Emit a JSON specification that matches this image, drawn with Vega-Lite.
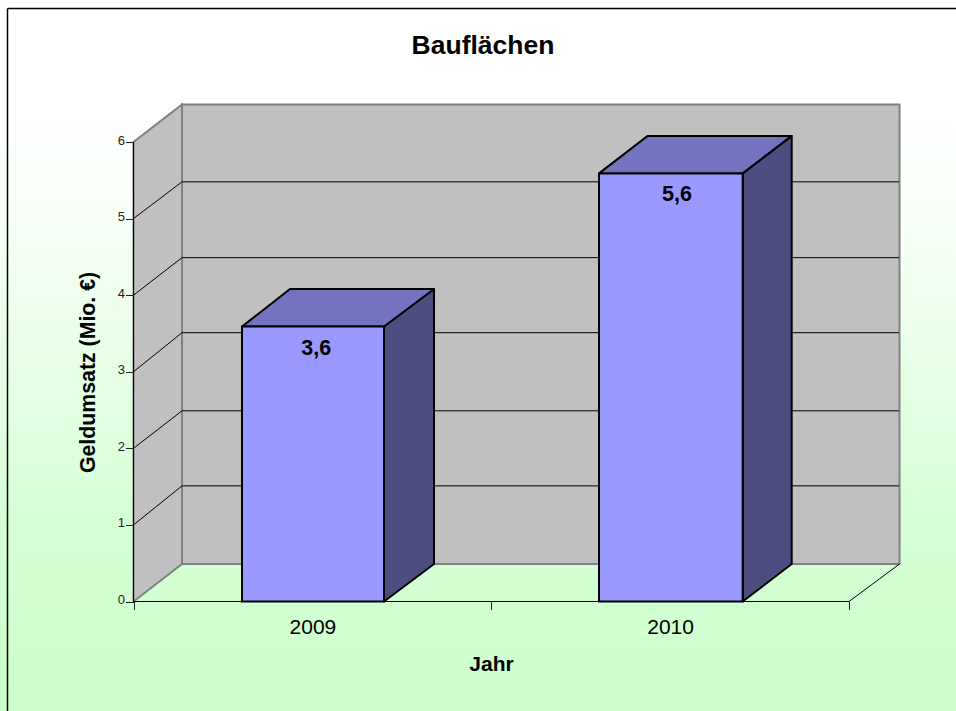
{"$schema":"https://vega.github.io/schema/vega-lite/v6.json","width":956,"height":711,"padding":0,"autosize":{"type":"none"},"background":"white","config":{"view":{"stroke":null},"font":"Liberation Sans"},
"title":{"text":"Bauflächen","font":"Liberation Sans","fontSize":26.5,"fontWeight":"bold","color":"#000000","anchor":"middle","dx":5,"dy":59,"offset":0},
"datasets":{
"bg":[{"x":-0.37317,"x2":2.29909,"y":-1.4298,"y2":7.8543}],
"walls":[{"id":"links","x":0,"y":0,"y2":6},{"id":"links","x":0.1356,"y":0.4897,"y2":6.4897},{"id":"hinten","x":0.1356,"y":0.4897,"y2":6.4897},{"id":"hinten","x":2.1412,"y":0.4897,"y2":6.4897}],
"grid":[
{"id":"d1","x":0,"y":1},{"id":"d1","x":0.1356,"y":1.51},{"id":"d2","x":0,"y":2},{"id":"d2","x":0.1356,"y":2.49},{"id":"d3","x":0,"y":3},{"id":"d3","x":0.1356,"y":3.51},{"id":"d4","x":0,"y":4},{"id":"d4","x":0.1356,"y":4.49},{"id":"d5","x":0,"y":5},{"id":"d5","x":0.1356,"y":5.48},
{"id":"h1","x":0.1356,"y":1.51},{"id":"h1","x":2.14,"y":1.51},{"id":"h2","x":0.1356,"y":2.49},{"id":"h2","x":2.14,"y":2.49},{"id":"h3","x":0.1356,"y":3.51},{"id":"h3","x":2.14,"y":3.51},{"id":"h4","x":0.1356,"y":4.49},{"id":"h4","x":2.14,"y":4.49},{"id":"h5","x":0.1356,"y":5.48},{"id":"h5","x":2.14,"y":5.48},
{"id":"yachse","x":0,"y":0},{"id":"yachse","x":0,"y":6},{"id":"xachse","x":0,"y":0},{"id":"xachse","x":2,"y":0},{"id":"boden","x":2,"y":0},{"id":"boden","x":2.1412,"y":0.4897}],
"frame":[{"id":"l","x":-0.3522,"y":-1.4298},{"id":"l","x":-0.3522,"y":7.7432},{"id":"o","x":-0.3522,"y":7.7432},{"id":"o","x":2.29909,"y":7.7432}],
"bars":[{"jahr":"2009","x":0.3033,"x2":0.7002,"y":3.59,"y2":0},{"jahr":"2010","x":1.3012,"x2":1.7028,"y":5.59,"y2":0}],
"faces":[
{"id":"s2009","typ":"seite","x":0.7002,"y":0,"y2":3.59},{"id":"s2009","typ":"seite","x":0.84,"y":0.4897,"y2":4.08},
{"id":"o2009","typ":"oben","x":0.3033,"y":3.59,"y2":3.59},{"id":"o2009","typ":"oben","x":0.4375,"y":3.59,"y2":4.08},{"id":"o2009","typ":"oben","x":0.7002,"y":3.59,"y2":4.08},{"id":"o2009","typ":"oben","x":0.84,"y":4.08,"y2":4.08},
{"id":"s2010","typ":"seite","x":1.7028,"y":0,"y2":5.59},{"id":"s2010","typ":"seite","x":1.8398,"y":0.4897,"y2":6.08},
{"id":"o2010","typ":"oben","x":1.3012,"y":5.59,"y2":5.59},{"id":"o2010","typ":"oben","x":1.4373,"y":5.59,"y2":6.08},{"id":"o2010","typ":"oben","x":1.7028,"y":5.59,"y2":6.08},{"id":"o2010","typ":"oben","x":1.8398,"y":6.08,"y2":6.08}],
"labels":[{"x":0.5105,"y":3.59,"label":"3,6"},{"x":1.519,"y":5.59,"label":"5,6"}]},
"encoding":{
"x":{"field":"x","type":"quantitative","scale":{"domain":[-0.37317,2.29909],"nice":false,"zero":false},
"axis":{"orient":"bottom","offset":-109.5,"zindex":1,"grid":false,"domain":false,"values":[0,0.5,1,1.5,2],"tickSize":8,"tickColor":"#222222","tickOpacity":{"condition":{"test":"datum.value==0.5||datum.value==1.5","value":0},"value":1},"labelExpr":"datum.value==0.5?'2009':datum.value==1.5?'2010':''","labelFont":"Liberation Sans","labelFontSize":21,"labelColor":"#000000","labelPadding":7,"labelOverlap":false,"title":"Jahr","titleFont":"Liberation Sans","titleFontSize":21,"titleFontWeight":"bold","titleColor":"#000000","titleX":491,"titleY":63,"titleBaseline":"middle"}},
"y":{"field":"y","type":"quantitative","stack":null,"scale":{"domain":[-1.4298,7.8543],"nice":false,"zero":false},
"axis":{"orient":"left","offset":-133.5,"zindex":1,"grid":false,"domain":false,"values":[0,1,2,3,4,5,6],"tickSize":8,"tickColor":"#222222","labelFont":"Liberation Sans","labelFontSize":13,"labelColor":"#222222","labelPadding":1,"labelOffset":-2,"title":"Geldumsatz (Mio. €)","titleFont":"Liberation Sans","titleFontSize":21.3,"titleFontWeight":"bold","titleColor":"#000000","titleAngle":-90,"titleX":-45.5,"titleY":372,"titleBaseline":"middle"}}},
"layer":[
{"data":{"name":"bg"},"mark":{"type":"rect","color":{"gradient":"linear","x1":0,"y1":0,"x2":0,"y2":1,"stops":[{"offset":0,"color":"#ffffff"},{"offset":0.14,"color":"#ffffff"},{"offset":0.33,"color":"#f6fff6"},{"offset":0.73,"color":"#d6ffd6"},{"offset":1,"color":"#ccffcc"}]}},"encoding":{"x2":{"field":"x2"},"y2":{"field":"y2"}}},
{"data":{"name":"frame"},"mark":{"type":"line","color":"#000000","strokeWidth":1.5},"encoding":{"detail":{"field":"id"}}},
{"data":{"name":"walls"},"mark":{"type":"area","orient":"vertical","fill":"#c0c0c0","stroke":"#808080","strokeWidth":2},"encoding":{"y2":{"field":"y2"},"detail":{"field":"id"}}},
{"data":{"name":"grid"},"mark":{"type":"line","color":"#000000","strokeWidth":1},"encoding":{"detail":{"field":"id"}}},
{"data":{"name":"faces"},"mark":{"type":"area","orient":"vertical","stroke":"#000000","strokeWidth":2,"strokeJoin":"round"},"encoding":{"y2":{"field":"y2"},"detail":{"field":"id"},"fill":{"field":"typ","type":"nominal","scale":{"domain":["oben","seite"],"range":["#7373bf","#4d4d80"]},"legend":null}}},
{"data":{"name":"bars"},"mark":{"type":"rect","fill":"#9999ff","stroke":"#000000","strokeWidth":2},"encoding":{"x2":{"field":"x2"},"y2":{"field":"y2"}}},
{"data":{"name":"labels"},"mark":{"type":"text","font":"Liberation Sans","fontSize":21.5,"fontWeight":"bold","color":"#000000","dy":22,"baseline":"middle"},"encoding":{"text":{"field":"label"}}}
]}
